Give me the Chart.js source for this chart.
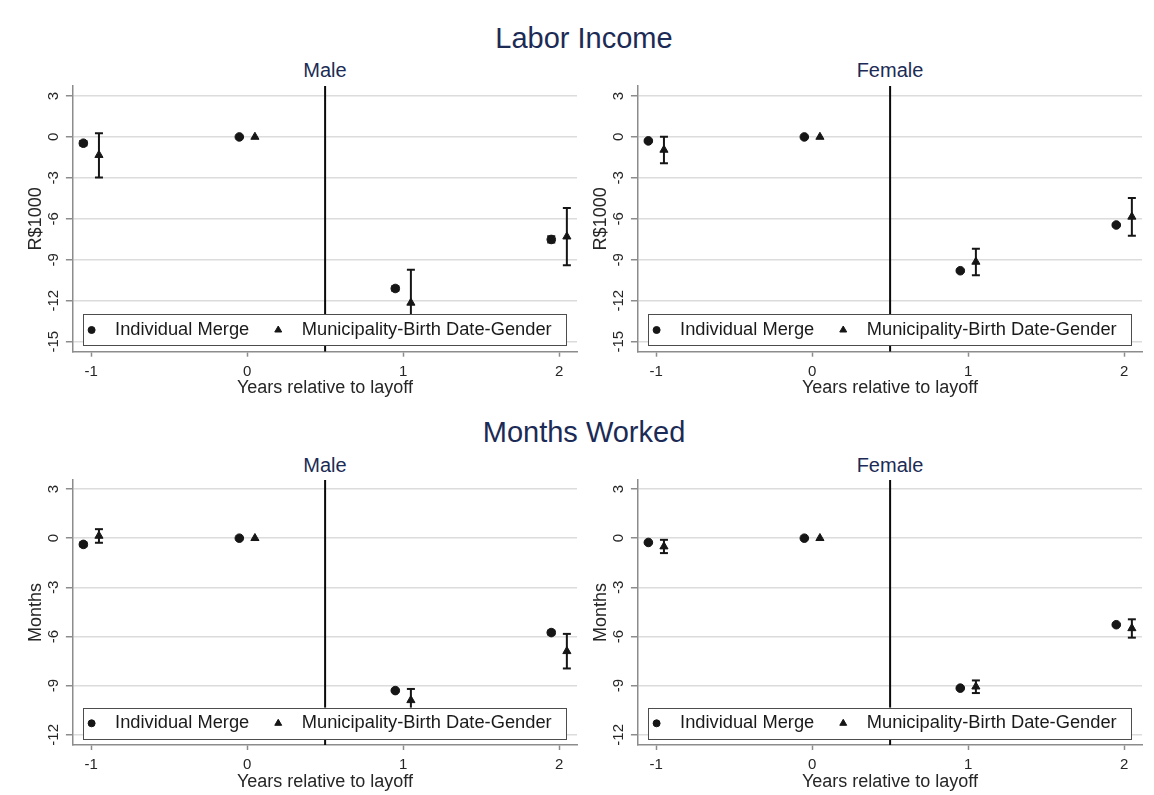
<!DOCTYPE html>
<html>
<head>
<meta charset="utf-8">
<script src="https://cdn.jsdelivr.net/npm/chart.js@4/dist/chart.umd.min.js"></script>
<style>
  html, body { margin: 0; padding: 0; background: #ffffff; }
  body { width: 1154px; height: 795px; position: relative; overflow: hidden;
         font-family: "Liberation Sans", Arial, sans-serif; }
  .ttl { position: absolute; text-align: center; white-space: nowrap; color: #1c2b55; }
  .main { font-size: 29px; line-height: 29px; width: 400px; }
  .sub { font-size: 20px; line-height: 20px; width: 200px; }
  canvas { position: absolute; }
</style>
</head>
<body>
<div class="ttl main" style="left:384px; top:24px;">Labor Income</div>
<div class="ttl sub" style="left:225px; top:60px;">Male</div>
<div class="ttl sub" style="left:790px; top:60px;">Female</div>
<div class="ttl main" style="left:384px; top:418px;">Months Worked</div>
<div class="ttl sub" style="left:225px; top:455px;">Male</div>
<div class="ttl sub" style="left:790px; top:455px;">Female</div>

<canvas id="incomeMale" width="568" height="320" style="left:15px; top:80px;"></canvas>
<canvas id="incomeFemale" width="568" height="320" style="left:580px; top:80px;"></canvas>
<canvas id="monthsMale" width="568" height="320" style="left:15px; top:474px;"></canvas>
<canvas id="monthsFemale" width="568" height="320" style="left:580px; top:474px;"></canvas>

<script>
// ---- data -------------------------------------------------------------
const years = [-1, 0, 1, 2];            // years relative to layoff
const seriesNames = ['Individual Merge', 'Municipality-Birth Date-Gender'];
const dodge = 0.05;                      // horizontal offset of the two estimates
const layoffLine = 0.5;

const xRange = [-1.117, 2.115];
const incomeTicks = [-15, -12, -9, -6, -3, 0, 3];
const incomeRange = [-15.73, 3.73];
const monthTicks = [-12, -9, -6, -3, 0, 3];
const monthRange = [-12.62, 3.55];

// Labor income (R$1000), male
const incMaleInd   = [-0.46, 0, -11.10, -7.51];
const incMaleIndLo = [-0.62, null, -11.27, -7.74];
const incMaleIndHi = [-0.30, null, -10.93, -7.28];
const incMaleMun   = [-1.33, 0, -12.15, -7.30];
const incMaleMunLo = [-2.97, null, -14.58, -9.40];
const incMaleMunHi = [0.27, null, -9.72, -5.20];

// Labor income (R$1000), female
const incFemInd   = [-0.29, 0, -9.80, -6.45];
const incFemIndLo = [-0.36, null, -9.87, -6.52];
const incFemIndHi = [-0.22, null, -9.73, -6.38];
const incFemMun   = [-0.95, 0, -9.15, -5.85];
const incFemMunLo = [-1.92, null, -10.13, -7.23];
const incFemMunHi = [0.02, null, -8.19, -4.47];

// Months worked, male
const monMaleInd   = [-0.38, 0, -9.30, -5.76];
const monMaleIndLo = [-0.50, null, -9.36, -5.88];
const monMaleIndHi = [-0.26, null, -9.24, -5.64];
const monMaleMun   = [0.14, 0, -9.89, -6.90];
const monMaleMunLo = [-0.28, null, -10.58, -7.95];
const monMaleMunHi = [0.55, null, -9.20, -5.84];

// Months worked, female
const monFemInd   = [-0.26, 0, -9.15, -5.28];
const monFemIndLo = [-0.30, null, -9.19, -5.32];
const monFemIndHi = [-0.22, null, -9.11, -5.24];
const monFemMun   = [-0.51, 0, -9.06, -5.50];
const monFemMunLo = [-0.91, null, -9.45, -6.07];
const monFemMunHi = [-0.10, null, -8.68, -4.95];

// ---- styling ----------------------------------------------------------
const FONT = '"Liberation Sans", Arial, sans-serif';
const INK = '#161616';
const AXIS = '#8c8c8c';
const GRID = '#dcdcdc';
const TEXT = '#262626';

Chart.defaults.font.family = FONT;
Chart.defaults.animation = false;

// ---- helpers ----------------------------------------------------------
function markers(est, off) {
  return years.map((yr, i) => ({ x: yr + off, y: est[i] }));
}
function stems(lo, hi, off) {
  const out = [];
  years.forEach((yr, i) => {
    if (lo[i] == null) return;
    out.push({ x: yr + off, y: hi[i] }, { x: yr + off, y: lo[i] }, { x: yr + off, y: null });
  });
  return out;
}
function caps(lo, hi, off) {
  const out = [];
  years.forEach((yr, i) => {
    if (lo[i] == null) return;
    out.push({ x: yr + off, y: lo[i] }, { x: yr + off, y: hi[i] });
  });
  return out;
}
// keep tick labels from pushing the plot region around
function noOverflow(sc) {
  sc.paddingTop = 0; sc.paddingBottom = 0; sc.paddingLeft = 0; sc.paddingRight = 0;
}

// Boxed legend drawn inside the bottom of the plot region, over the data.
const boxLegend = {
  id: 'boxLegend',
  afterDraw(chart) {
    const { ctx, chartArea: a } = chart;
    const items = chart.data.datasets.filter(d => d.legendMarker);
    const left = a.left + 10.3, right = a.right - 11;
    const bottom = a.bottom - 6, height = 31.4, top = bottom - height;
    const cy = top + height / 2;
    ctx.save();
    ctx.fillStyle = '#ffffff';
    ctx.fillRect(left, top, right - left, height);
    ctx.strokeStyle = '#4d4d4d';
    ctx.lineWidth = 1;
    ctx.strokeRect(Math.round(left) + 0.5, Math.round(top) + 0.5, Math.round(right - left), Math.round(height));
    ctx.font = '18.3px ' + FONT;
    ctx.textBaseline = 'middle';
    ctx.textAlign = 'left';
    let x = left + 8.4;
    items.forEach(d => {
      ctx.fillStyle = INK;
      ctx.strokeStyle = INK;
      ctx.lineWidth = 1;
      Chart.helpers.drawPoint(ctx, { pointStyle: d.pointStyle, radius: d.legendRadius, borderWidth: 1, rotation: 0 }, x, cy);
      ctx.fillStyle = '#1a1a1a';
      ctx.fillText(d.label, x + 23.5, cy);
      x = x + 23.5 + ctx.measureText(d.label).width + 29;
    });
    ctx.restore();
  }
};

function panel(id, s) {
  const off = [-dodge, dodge];
  const datasets = [
    { label: seriesNames[0], legendMarker: true, legendRadius: 3.5, data: markers(s.ind, off[0]),
      pointStyle: 'circle', pointRadius: 4.3, pointBorderWidth: 1, backgroundColor: INK, borderColor: INK },
    { label: seriesNames[1], legendMarker: true, legendRadius: 4, data: markers(s.mun, off[1]),
      pointStyle: 'triangle', pointRadius: 4.7, pointBorderWidth: 1, backgroundColor: INK, borderColor: INK },
    { label: 'ci-cap-1', data: caps(s.indLo, s.indHi, off[0]), pointStyle: 'line', pointRadius: 4,
      pointBorderWidth: 2, borderColor: INK, backgroundColor: INK },
    { label: 'ci-cap-2', data: caps(s.munLo, s.munHi, off[1]), pointStyle: 'line', pointRadius: 4,
      pointBorderWidth: 2, borderColor: INK, backgroundColor: INK },
    { label: 'ci-1', data: stems(s.indLo, s.indHi, off[0]), showLine: true, spanGaps: false,
      pointRadius: 0, borderWidth: 2, borderColor: INK },
    { label: 'ci-2', data: stems(s.munLo, s.munHi, off[1]), showLine: true, spanGaps: false,
      pointRadius: 0, borderWidth: 2, borderColor: INK },
    { label: 'layoff', data: [{ x: layoffLine, y: s.range[0] }, { x: layoffLine, y: s.range[1] }],
      showLine: true, pointRadius: 0, borderWidth: 2, borderColor: '#0a0a0a' }
  ];

  return new Chart(document.getElementById(id), {
    type: 'scatter',
    data: { datasets },
    options: {
      responsive: false,
      events: [],
      layout: { padding: { top: 5, right: 3, bottom: 0, left: 0 } },
      plugins: { legend: { display: false }, tooltip: { enabled: false }, title: { display: false } },
      scales: {
        x: {
          type: 'linear', min: xRange[0], max: xRange[1],
          afterBuildTicks: sc => { sc.ticks = years.map(v => ({ value: v })); },
          afterFit: sc => { sc.height = s.xAxisHeight; noOverflow(sc); },
          grid: { drawOnChartArea: false, drawTicks: true, tickLength: 5, tickColor: AXIS, tickWidth: 1.5 },
          border: { color: AXIS, width: 1.5 },
          ticks: { font: { size: 15 }, color: TEXT, padding: 5.8, autoSkip: false, maxRotation: 0 },
          title: { display: true, text: 'Years relative to layoff', font: { size: 18 }, color: TEXT,
                   padding: { top: 0, bottom: 0.7 } }
        },
        y: {
          type: 'linear', min: s.range[0], max: s.range[1],
          afterBuildTicks: sc => { sc.ticks = s.ticks.map(v => ({ value: v })); },
          afterFit: sc => { sc.width = 57.9; noOverflow(sc); },
          grid: { color: GRID, lineWidth: 1.5, drawTicks: true, tickLength: 7, tickColor: AXIS, tickWidth: 1.5 },
          border: { color: AXIS, width: 1.5 },
          ticks: { font: { size: 15 }, color: TEXT, minRotation: 90, maxRotation: 90,
                   crossAlign: 'center', padding: 1, autoSkip: false },
          title: { display: true, text: s.yTitle, font: { size: 18 }, color: TEXT, padding: { top: 10.2, bottom: 0 } }
        }
      }
    },
    plugins: [boxLegend]
  });
}

panel('incomeMale', { ind: incMaleInd, indLo: incMaleIndLo, indHi: incMaleIndHi,
  mun: incMaleMun, munLo: incMaleMunLo, munHi: incMaleMunHi,
  range: incomeRange, ticks: incomeTicks, yTitle: 'R$1000', xAxisHeight: 48.3 });
panel('incomeFemale', { ind: incFemInd, indLo: incFemIndLo, indHi: incFemIndHi,
  mun: incFemMun, munLo: incFemMunLo, munHi: incFemMunHi,
  range: incomeRange, ticks: incomeTicks, yTitle: 'R$1000', xAxisHeight: 48.3 });
panel('monthsMale', { ind: monMaleInd, indLo: monMaleIndLo, indHi: monMaleIndHi,
  mun: monMaleMun, munLo: monMaleMunLo, munHi: monMaleMunHi,
  range: monthRange, ticks: monthTicks, yTitle: 'Months', xAxisHeight: 49 });
panel('monthsFemale', { ind: monFemInd, indLo: monFemIndLo, indHi: monFemIndHi,
  mun: monFemMun, munLo: monFemMunLo, munHi: monFemMunHi,
  range: monthRange, ticks: monthTicks, yTitle: 'Months', xAxisHeight: 49 });
</script>
</body>
</html>
